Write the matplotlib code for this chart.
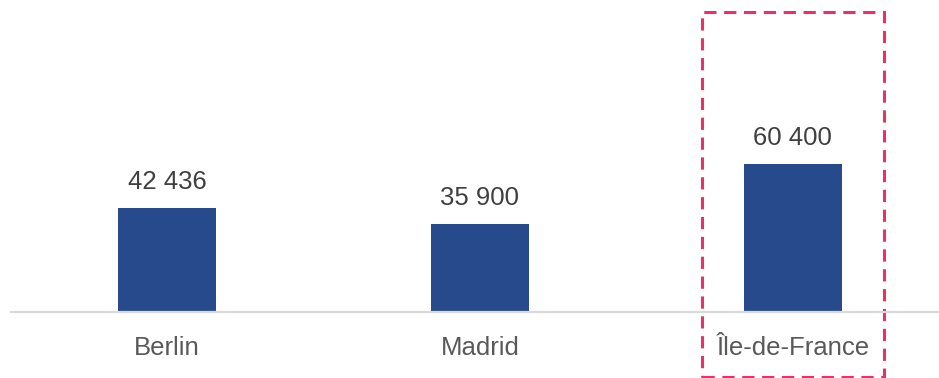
import matplotlib.pyplot as plt
from matplotlib.patches import Rectangle

# données
regions = ["Berlin", "Madrid", "Île-de-France"]
valeurs = [42436, 35900, 60400]
etiquettes = ["42 436", "35 900", "60 400"]
mise_en_avant = "Île-de-France"

plt.rcParams["font.family"] = ["Liberation Sans", "DejaVu Sans"]

fig = plt.figure(figsize=(9.39, 3.78), dpi=100)
ax = fig.add_axes([10.5 / 939, 66 / 378, 928.5 / 939, 312 / 378])

x = list(range(len(regions)))
bars = ax.bar(x, valeurs, width=0.313, color="#264A8C")

ax.set_xlim(-0.5, 2.467)
ax.set_ylim(0, 127300)

for b, txt in zip(bars, etiquettes):
    ax.annotate(txt, (b.get_x() + b.get_width() / 2, b.get_height()),
                xytext=(0, 10), textcoords="offset points",
                ha="center", va="bottom", fontsize=18.5, color="#404040")

ax.set_xticks(x)
ax.set_xticklabels(regions, fontsize=18.5, color="#595959")
ax.tick_params(axis="x", length=0, pad=17)
ax.set_yticks([])

for s in ["top", "right", "left"]:
    ax.spines[s].set_visible(False)
ax.spines["bottom"].set_color("#d9d9d9")
ax.spines["bottom"].set_linewidth(1.6)

# cadre pointillé autour de la région mise en avant
i = regions.index(mise_en_avant)
cadre = Rectangle((i - 0.29, -26500), 0.58, 149000, fill=False,
                  edgecolor="#EC2F67", linewidth=2.2, linestyle=(0, (4, 2.5)),
                  clip_on=False)
ax.add_patch(cadre)

fig.savefig("out.png", dpi=100)
